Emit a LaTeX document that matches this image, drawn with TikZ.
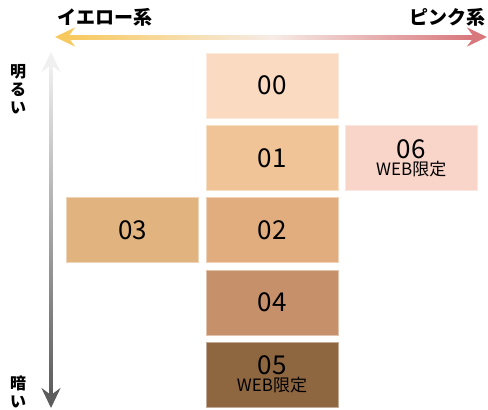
\documentclass[tikz,border=0pt]{standalone}
\usepackage{fontspec}
\setmainfont{Noto Sans CJK JP}
\usepackage{xcolor}
\usepackage{tikz}
\usetikzlibrary{positioning}
\usetikzlibrary{arrows.meta}

\definecolor{Tone00}{HTML}{FADAC1}
\definecolor{Tone01}{HTML}{F0C497}
\definecolor{Tone02}{HTML}{E2AD7E}
\definecolor{Tone03}{HTML}{E0B37F}
\definecolor{Tone04}{HTML}{C6906A}
\definecolor{Tone05}{HTML}{8E6640}
\definecolor{Tone06}{HTML}{F8D4C9}
\definecolor{YellowEnd}{HTML}{F7C95F}
\definecolor{PinkEnd}{HTML}{D8777C}
\definecolor{MidPale}{HTML}{F6ECE6}
\definecolor{LightEnd}{HTML}{F0F0F0}
\definecolor{DarkEnd}{HTML}{5C5C5C}

\begin{document}
\begin{tikzpicture}[x=1pt,y=-1pt,
    swatch/.style={draw=#1!55!white,fill=#1,line width=0.8pt,
      minimum width=132pt,minimum height=65pt,inner sep=0pt,align=center,
      font=\fontsize{26}{26}\selectfont},
    axislabel/.style={font=\fontsize{19}{19}\selectfont\bfseries,inner sep=0pt},
    sidelabel/.style={font=\fontsize{16}{18}\selectfont\bfseries,inner sep=0pt,align=center},
    tip/.style={-{Stealth[length=20pt,width=19pt,inset=7pt]}}]

  \useasboundingbox (0,0) rectangle (488,410);

  % axis ends
  \coordinate (YellowTip) at (55,37);
  \coordinate (YellowBase) at (75,37);
  \coordinate (PinkTip)   at (487,37);
  \coordinate (PinkBase)  at (467,37);
  \coordinate (LightTip)  at (51,52);
  \coordinate (LightBase) at (51,70);
  \coordinate (DarkTip)   at (51,408);
  \coordinate (DarkBase)  at (51,390);

  % horizontal axis: yellow <-> pink
  \shade [left color=YellowEnd, right color=PinkEnd, middle color=MidPale]
    (70,35) rectangle (472,39);
  \draw [tip, YellowEnd, line width=4pt] (YellowBase) -- (YellowTip);
  \draw [tip, PinkEnd, line width=4pt] (PinkBase) -- (PinkTip);

  % vertical axis: light <-> dark
  \shade [top color=LightEnd, bottom color=DarkEnd]
    (49.5,62) rectangle (52.5,396);
  \draw [tip, LightEnd, line width=3pt] (LightBase) -- (LightTip);
  \draw [tip, DarkEnd, line width=3pt] (DarkBase) -- (DarkTip);

  % axis labels
  \node[axislabel, anchor=west] (yellow) at (57,17) {イエロー系};
  \node[axislabel, anchor=east] (pink) at (486,17) {ピンク系};
  \node[sidelabel] (bright) at (18,89) {明\\る\\い};
  \node[sidelabel] (dark) at (18,392) {暗\\い};

  % shade swatches
  \node[swatch=Tone00] (s00) at (272,85.5) {00};
  \node[swatch=Tone01, below=6.5pt of s00] (s01) {01};
  \node[swatch=Tone02, below=6.5pt of s01] (s02) {02};
  \node[swatch=Tone04, below=6.5pt of s02] (s04) {04};
  \node[swatch=Tone05, below=6.5pt of s04] (s05)
    {05\\[-9pt]{\fontsize{17}{17}\selectfont WEB限定}};
  \node[swatch=Tone06, right=6.5pt of s01] (s06)
    {06\\[-9pt]{\fontsize{17}{17}\selectfont WEB限定}};
  \node[swatch=Tone03, left=6.5pt of s02] (s03) {03};

\end{tikzpicture}
\end{document}
